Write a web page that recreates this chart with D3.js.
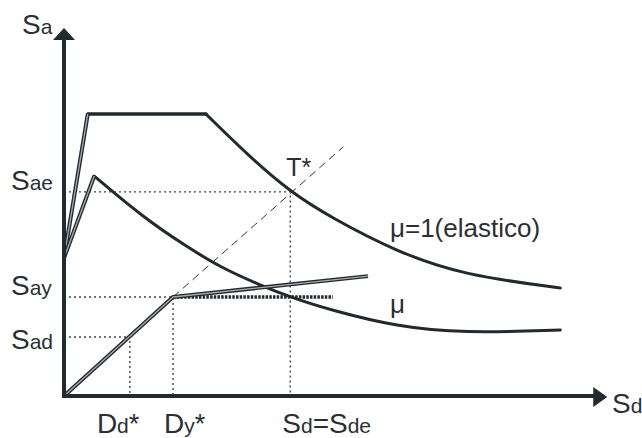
<!DOCTYPE html>
<html><head><meta charset="utf-8">
<script src="https://cdn.jsdelivr.net/npm/d3@7"></script>
<style>body{margin:0;background:#fff}svg{display:block}</style>
</head><body><svg id="c" width="642" height="438"></svg>
<script>
// ---- data (schematic ADRS values) ----
const elasticRise = [[0,3.83],[0.44,7.83]];
const elasticPlateau = [[0.44,7.83],[2.63,7.83]];
const elasticDecay = [[2.63,7.83],[3.44,6.64],[4.19,5.67],[4.93,4.97],[6.17,4.0],[7.39,3.36],[9.19,3.0]];
const ductileRise = [[0,3.83],[0.56,6.11]];
const ductileDecay = [[0.56,6.11],[1.46,4.97],[2.28,4.14],[2.89,3.58],[3.63,3.08],[4.24,2.72],[4.93,2.39],[6.17,1.92],[7.39,1.75],[9.19,1.83]];
const capacity = [[0,0],[2.02,2.75],[5.63,3.33]];
const plastic = [[2.02,2.75],[4.98,2.75]];
const periodLine = [[2.02,2.75],[5.17,6.92]];
const Sae = 5.67, Sde = 4.19, Say = 2.75, Dy = 2.02, Sad = 1.64, Dd = 1.22;
const labelSae = ["S","ae"], labelSay = ["S","ay"], labelSad = ["S","ad"];
const labelDd = ["D","d","*"], labelDy = ["D","y","*"];
const labelSdSde = [["S",28],["d",21],["=",28],["S",28],["de",21]];
const axisY = ["S","a"], axisX = ["S","d"];
const labelElastic = "μ=1(elastico)", labelMu = "μ", labelT = "T*";

// ---- drawing ----
const svg = d3.select("#c");
const x = d3.scaleLinear().domain([0,10]).range([64,604]);
const y = d3.scaleLinear().domain([0,10]).range([396,36]);
const ink = "#22292f";
const lin = d3.line().x(d=>x(d[0])).y(d=>y(d[1]));
const smooth = d3.line().x(d=>x(d[0])).y(d=>y(d[1])).curve(d3.curveBasis);
const font = "'Liberation Sans', Arial, sans-serif";

function dotted(pts){
  svg.append("path").attr("d",lin(pts)).attr("fill","none")
    .attr("stroke","#444").attr("stroke-width",1.4).attr("stroke-dasharray","2,3");
}
dotted([[0,Sae],[Sde,Sae],[Sde,0]]);
dotted([[0,Say],[Dy,Say],[Dy,0]]);
dotted([[0,Sad],[Dd,Sad],[Dd,0]]);

svg.append("path").attr("d",lin(periodLine)).attr("fill","none")
  .attr("stroke","#333").attr("stroke-width",1).attr("stroke-dasharray","8,5");

function dbl(pts){
  svg.append("path").attr("d",lin(pts)).attr("fill","none").attr("stroke",ink)
    .attr("stroke-width",4).attr("stroke-linejoin","round");
  svg.append("path").attr("d",lin(pts)).attr("fill","none").attr("stroke","#a8abae")
    .attr("stroke-width",1.3).attr("stroke-linejoin","round");
}
function solid(pts, gen, w){
  svg.append("path").attr("d",gen(pts)).attr("fill","none").attr("stroke",ink)
    .attr("stroke-width",w).attr("stroke-linecap","round").attr("stroke-linejoin","round");
}
solid(elasticPlateau, lin, 3.5);
solid(elasticDecay, smooth, 3);
solid(ductileDecay, smooth, 3);
dbl(elasticRise);
dbl(ductileRise);
svg.append("path").attr("d",lin(plastic)).attr("fill","none").attr("stroke",ink)
  .attr("stroke-width",3.5).attr("stroke-dasharray","2.5,1.2");
dbl(capacity);

// axes with arrows
const yTop = 10.22, xEnd = 10.06;
svg.append("line").attr("x1",x(0)).attr("y1",y(0)).attr("x2",x(0)).attr("y2",y(yTop)+8)
  .attr("stroke",ink).attr("stroke-width",4);
svg.append("line").attr("x1",x(0)-2).attr("y1",y(0)).attr("x2",x(xEnd)-8).attr("y2",y(0))
  .attr("stroke",ink).attr("stroke-width",4);
const tx = x(0), ty = y(yTop);
svg.append("path").attr("d",`M${tx},${ty}L${tx+11},${ty+12}L${tx-11},${ty+12}Z`).attr("fill",ink);
const ax = x(xEnd), ay = y(0)+1;
svg.append("path").attr("d",`M${ax},${ay}L${ax-14},${ay-10}L${ax-14},${ay+10}Z`).attr("fill",ink);

// labels
const tcol = "#2b2f33";
function lab(parts, px, py){
  const t = svg.append("text").attr("x",px).attr("y",py).attr("font-family",font).attr("fill",tcol);
  parts.forEach(p=>t.append("tspan").attr("font-size",p[1]+"px").text(p[0]));
  return t;
}
lab([[axisY[0],28],[axisY[1],21]], 22, 34);
lab([[labelSae[0],28],[labelSae[1],21]], 11, y(Sae)-2);
lab([[labelSay[0],28],[labelSay[1],21]], 11, y(Say)-2);
lab([[labelSad[0],28],[labelSad[1],21]], 11, y(Sad)+12);
lab([[labelDd[0],28],[labelDd[1],21],[labelDd[2],27]], x(Dd)-33, 433);
lab([[labelDy[0],28],[labelDy[1],21],[labelDy[2],27]], x(Dy)-9, 433);
lab(labelSdSde, x(Sde)-8, 433);
lab([[axisX[0],28],[axisX[1],21]], 612, 413);
lab([[labelT,25]], x(Sde)-4, 176);
lab([[labelElastic,26]], 390, 237);
lab([[labelMu,26]], 390, 313);
</script></body></html>
